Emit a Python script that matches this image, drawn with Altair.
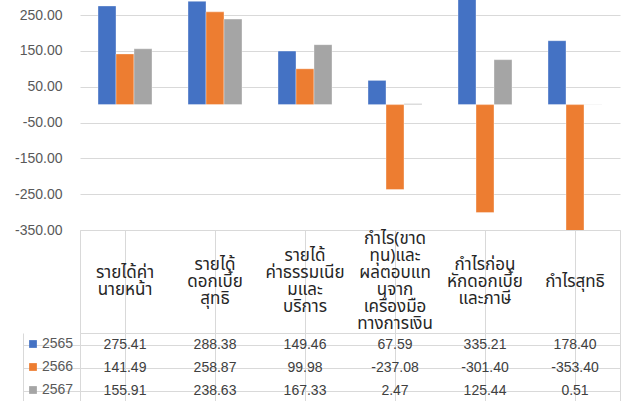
import altair as alt
import pandas as pd

keys = ["c1", "c2", "c3", "c4", "c5", "c6"]
headers = [
    ["รายได้ค่า", "นายหน้า"],
    ["รายได้", "ดอกเบี้ย", "สุทธิ"],
    ["รายได้", "ค่าธรรมเนีย", "มและ", "บริการ"],
    ["กำไร(ขาด", "ทุน)และ", "ผลตอบแท", "นจาก", "เครื่องมือ", "ทางการเงิน"],
    ["กำไรก่อน", "หักดอกเบี้ย", "และภาษี"],
    ["กำไรสุทธิ"],
]
years = ["2565", "2566", "2567"]
v2565 = [275.41, 288.38, 149.46, 67.59, 335.21, 178.40]
v2566 = [141.49, 258.87, 99.98, -237.08, -301.40, -353.40]
v2567 = [155.91, 238.63, 167.33, 2.47, 125.44, 0.51]
colors = ["#4472C4", "#ED7D31", "#A5A5A5"]
tick_values = [250, 150, 50, -50, -150, -250, -350]

rows = []
for yr, vals in zip(years, [v2565, v2566, v2567]):
    for k, v in zip(keys, vals):
        rows.append({"key": k, "year": yr, "value": v, "txt": f"{v:.2f}"})
df = pd.DataFrame(rows)

hrows = []
for k, lines in zip(keys, headers):
    n = len(lines)
    for i, line in enumerate(lines):
        hrows.append({"key": k, "line": line, "pos": i - (n - 1) / 2})
hdf = pd.DataFrame(hrows)

GRID = "#d9d9d9"
NUMFONT = "Liberation Sans"
THAIFONT = "Noto Sans Thai, Tahoma, Liberation Sans, sans-serif"
LINE_UNITS = 103 / 17 / 2

xband = alt.Scale(domain=keys, paddingInner=0, paddingOuter=0)

bars = alt.Chart(df).mark_bar(clip=True, stroke="#ffffff", strokeWidth=0.6, strokeOpacity=0.6).encode(
    x=alt.X("key:N", scale=xband, axis=None),
    xOffset=alt.XOffset("year:N", scale=alt.Scale(domain=years, paddingInner=0, paddingOuter=1)),
    y=alt.Y("value:Q",
            scale=alt.Scale(domain=[-350, 292], nice=False, zero=False),
            axis=alt.Axis(values=tick_values, grid=True, gridColor=GRID, domain=False, ticks=False,
                          labelPadding=18, labelFontSize=14, labelColor="#595959", labelFont=NUMFONT,
                          labelExpr="replace(format(datum.value, '.2f'), '\u2212', '-')", title=None)),
    y2=alt.datum(0),
    color=alt.Color("year:N", scale=alt.Scale(domain=years, range=colors),
                    legend=alt.Legend(orient="none", legendX=-54, legendY=337, title=None,
                                      symbolType="square", symbolSize=60, symbolStrokeWidth=0,
                                      labelFontSize=14, labelColor="#595959", labelFont=NUMFONT,
                                      rowPadding=9, labelOffset=2, padding=0, direction="vertical")),
).properties(width=540, height=230, view=alt.ViewBackground(strokeWidth=0))

hdr = alt.Chart(hdf).mark_text(fontSize=17, font=THAIFONT, color="#262626", baseline="middle").encode(
    x=alt.X("key:N", scale=xband,
            axis=alt.Axis(grid=True, bandPosition=0, gridColor=GRID, labels=False, ticks=False,
                          domain=False, title=None)),
    y=alt.Y("pos:Q", scale=alt.Scale(domain=[-LINE_UNITS, LINE_UNITS], reverse=True, nice=False, zero=False),
            axis=None),
    text="line:N",
).properties(width=540, height=103, view=alt.ViewBackground(stroke=GRID))

txt = alt.Chart(df).mark_text(fontSize=14, font=NUMFONT, color="#404040").encode(
    x=alt.X("key:N", scale=xband,
            axis=alt.Axis(grid=True, bandPosition=0, gridColor=GRID, labels=False, ticks=False,
                          domain=False, title=None)),
    y=alt.Y("year:N", scale=alt.Scale(domain=years, paddingInner=0, paddingOuter=0),
            axis=alt.Axis(grid=True, bandPosition=0, gridColor=GRID, labels=False, ticks=True,
                          tickSize=57, tickColor=GRID, domain=False, title=None)),
    text="txt:N",
)
border = alt.Chart(df).mark_text(opacity=0).encode(
    y=alt.Y("year:N", scale=alt.Scale(domain=years, paddingInner=0, paddingOuter=0),
            axis=alt.Axis(orient="left", offset=57, domain=True, domainColor=GRID, labels=False,
                          ticks=False, grid=False, title=None)),
    text="txt:N",
)
vals = alt.layer(txt, border).resolve_axis(y="independent").properties(
    width=540, height=69, view=alt.ViewBackground(stroke=GRID))

chart = alt.vconcat(bars, hdr, vals, spacing=0, bounds="flush").properties(
    padding={"left": 14, "top": 0, "right": 0, "bottom": 0}
).configure_view(stroke=GRID)

chart.save("out.html", embed_options={"renderer": "svg", "actions": False})
